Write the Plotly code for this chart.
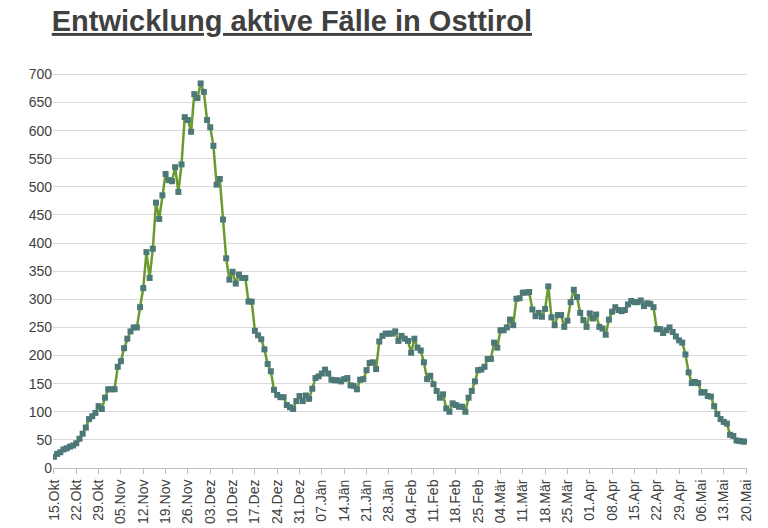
import plotly.graph_objects as go
import datetime as dt

values = [20,25,28,33,35,38,40,44,52,61,72,87,92,98,110,105,125,140,140,140,
          180,190,213,230,243,250,250,286,320,384,338,390,472,443,485,523,512,510,535,491,
          540,624,619,598,665,658,684,669,619,606,573,504,514,442,373,335,349,328,344,338,
          338,296,296,244,236,229,211,185,172,139,130,126,126,112,108,105,
          119,128,119,129,123,141,160,163,168,175,168,157,156,156,154,158,160,147,146,140,
          157,158,174,187,188,176,225,235,239,239,239,243,226,235,230,226,205,230,214,209,
          188,158,164,149,137,125,131,106,100,115,112,109,109,100,125,137,154,174,175,180,
          194,194,223,214,245,245,250,264,254,301,302,312,312,
          313,282,270,276,269,283,323,268,254,272,272,251,262,295,317,304,276,263,251,275,
          266,273,251,248,237,264,278,286,281,279,281,291,297,295,295,298,288,293,292,286,
          247,247,240,245,250,242,234,227,223,202,170,151,153,151,134,135,128,127,110,96,
          87,82,79,59,57,49,48,47,47]

months = ["Jän","Feb","Mär","Apr","Mai","Jun","Jul","Aug","Sep","Okt","Nov","Dez"]
start = dt.date(2020, 10, 15)
dates = [start + dt.timedelta(days=i) for i in range(len(values))]
labels = [f"{d.day:02d}.{months[d.month-1]}" for d in dates]
x = list(range(len(values)))
tickvals = x[::7]
ticktext = labels[::7]

fig = go.Figure(go.Scatter(
    x=x, y=values, mode="lines+markers",
    line=dict(color="#6b9a2f", width=2.5),
    marker=dict(symbol="square", size=6, color="#4d7878"),
))
fig.update_layout(
    width=768, height=528, plot_bgcolor="white", paper_bgcolor="white",
    margin=dict(l=45, r=29, t=58, b=62),
    showlegend=False,
    font=dict(family="Liberation Sans, Arial", color="#404040", size=14),
    title=dict(text="<b><u>Entwicklung aktive Fälle in Osttirol</u></b>",
               x=0.057, xanchor="left", y=0.995, yanchor="top",
               font=dict(size=29, color="#404040")),
)
fig.update_xaxes(range=[-0.3, len(values)-0.7], tickvals=tickvals, ticktext=ticktext,
                 tickangle=-90, showgrid=False, showline=True, linecolor="#bfbfbf",
                 ticks="outside", tickcolor="#bfbfbf", ticklen=5, zeroline=False)
fig.update_yaxes(range=[0, 715], dtick=50, showgrid=True, gridcolor="#d9d9d9",
                 zeroline=False, showline=False)
fig.write_html("out.html")
